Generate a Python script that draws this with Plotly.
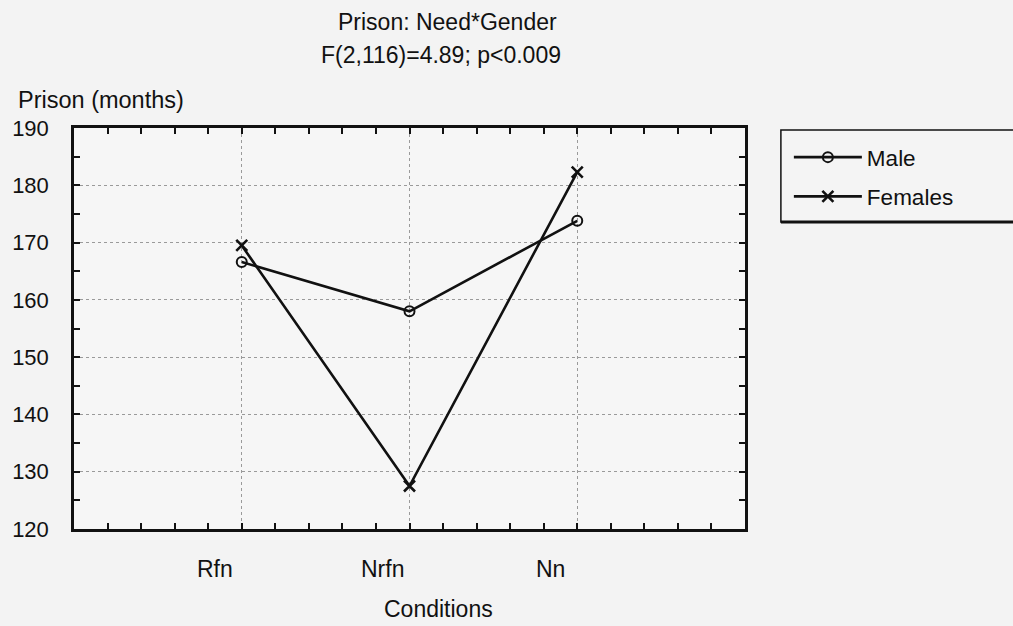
import plotly.graph_objects as go

conditions = ["Rfn", "Nrfn", "Nn"]
male = [166.6, 158.0, 173.8]
females = [169.5, 127.5, 182.3]
y_ticks = [120, 130, 140, 150, 160, 170, 180, 190]

xpos = list(range(1, len(conditions) + 1))
FONT = "Liberation Sans, Arial, sans-serif"
INK = "#111111"

fig = go.Figure()
fig.add_trace(go.Scatter(
    x=xpos, y=male, name="Male", mode="lines+markers", legendgroup="m",
    line=dict(color=INK, width=2.6),
    marker=dict(symbol="circle-open", size=10, color=INK, line=dict(width=2)),
))
fig.add_trace(go.Scatter(
    x=xpos, y=females, name="Females", mode="lines+markers", legendgroup="f",
    line=dict(color=INK, width=2.6),
    marker=dict(symbol="x-thin-open", size=11, color=INK, line=dict(width=2.6)),
))

L, R, T, B = 72, 268, 128, 97
W, H = 1013, 626
pw, ph = W - L - R, H - T - B

def px_x(p):
    return (p - L) / pw

def px_y(p):
    return (H - B - p) / ph

# legend frame with heavier bottom edge
fig.add_shape(type="rect", xref="paper", yref="paper",
              x0=px_x(781), x1=px_x(1080), y0=px_y(222), y1=px_y(130),
              line=dict(color=INK, width=1.5), fillcolor="#f4f4f4", layer="below")
fig.add_shape(type="line", xref="paper", yref="paper",
              x0=px_x(781), x1=px_x(1080), y0=px_y(222), y1=px_y(222),
              line=dict(color=INK, width=3))

def text_at(txt, x, y, size, xanchor="center"):
    return dict(text=txt, xref="paper", yref="paper", x=px_x(x), y=px_y(y),
                xanchor=xanchor, yanchor="middle", showarrow=False,
                font=dict(size=size, family=FONT))

annotations = [
    text_at("Prison: Need*Gender", 447, 22, 23),
    text_at("F(2,116)=4.89; p<0.009", 440, 55, 23),
    text_at("Prison (months)", 14, 100, 23.5, xanchor="left"),
    text_at("Conditions", 438, 609, 23),
]
# category labels, set slightly left of their gridlines
for xv, name in zip(xpos, conditions):
    annotations.append(dict(text=name, x=xv, xref="x", y=px_y(569), yref="paper",
                            xanchor="center", yanchor="middle", xshift=-27,
                            showarrow=False, font=dict(size=23, family=FONT)))

fig.update_layout(
    width=W, height=H,
    margin=dict(l=L, r=R, t=T, b=B),
    paper_bgcolor="#f3f3f3", plot_bgcolor="#f6f6f6",
    font=dict(family=FONT, color=INK, size=22),
    showlegend=True,
    legend=dict(x=px_x(789), y=px_y(136), xanchor="left", yanchor="top",
                bgcolor="rgba(0,0,0,0)", borderwidth=0,
                font=dict(size=22.5, family=FONT), tracegroupgap=7,
                itemwidth=68),
    annotations=annotations,
)

fig.update_xaxes(
    range=[0, len(conditions) + 1], tickvals=xpos, showticklabels=False,
    ticks="inside", ticklen=6, tickwidth=2, tickcolor=INK,
    showline=True, linecolor=INK, linewidth=2.5, mirror="ticks",
    showgrid=True, gridcolor="#9a9a9a", griddash="dot", gridwidth=1,
    zeroline=False,
    minor=dict(dtick=0.2, tick0=0, ticks="inside", ticklen=6, tickwidth=2,
               tickcolor=INK, showgrid=False),
)
fig.update_yaxes(
    range=[120, 190], tickvals=y_ticks,
    ticks="inside", ticklen=6, tickwidth=2, tickcolor=INK,
    showline=True, linecolor=INK, linewidth=2.5, mirror="ticks",
    showgrid=True, gridcolor="#9a9a9a", griddash="dot", gridwidth=1,
    zeroline=False, tickfont=dict(size=22), ticklabelstandoff=18,
    minor=dict(dtick=5, tick0=120, ticks="inside", ticklen=6, tickwidth=2,
               tickcolor=INK, showgrid=False),
)

fig.write_html("out.html")
